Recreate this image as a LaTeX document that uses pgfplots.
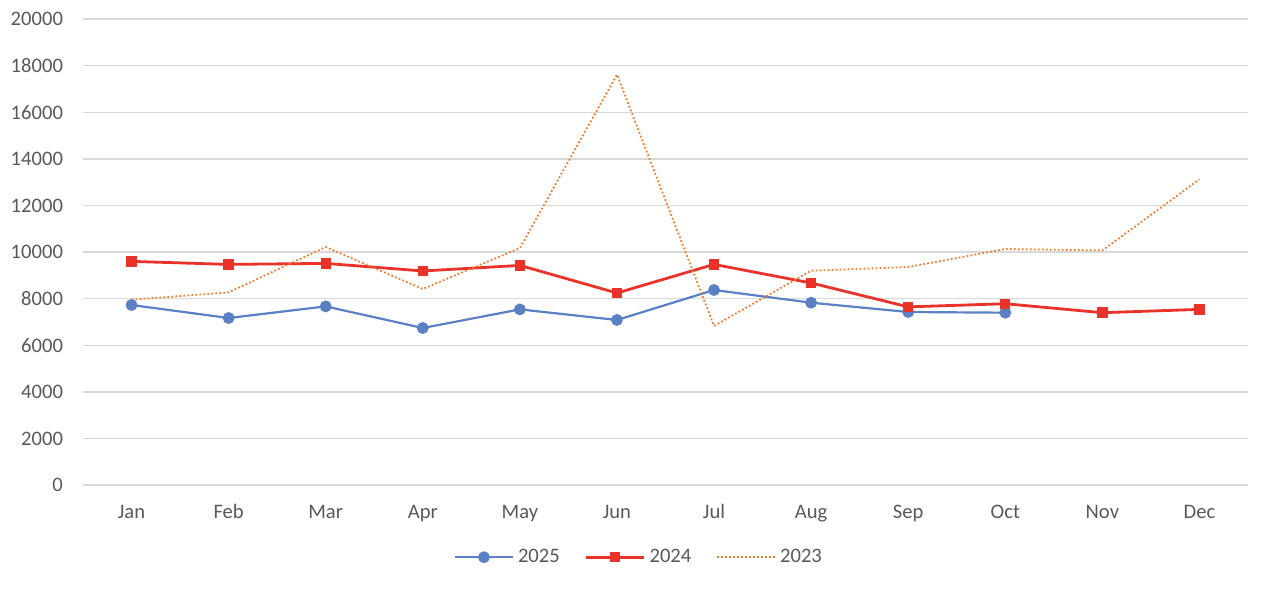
\documentclass[border=0pt]{standalone}
\usepackage{fontspec}
\setmainfont{Carlito}
\usepackage{pgfplots}
\pgfplotsset{compat=1.18}
\definecolor{cblue}{HTML}{5B80C4}
\definecolor{cred}{HTML}{E8322A}
\definecolor{corange}{HTML}{ED7D31}
\definecolor{tgray}{HTML}{595959}
\definecolor{ggray}{HTML}{D9D9D9}
\begin{document}
\begin{tikzpicture}
\begin{axis}[
	scale only axis,
	width = 582.5pt,
	height = 233pt,
	xmin = -0.5, xmax = 11.5,
	ymin = 0, ymax = 20000,
	ytick = {0,2000,...,20000},
	xtick = {0,...,11},
	xticklabels = {Jan,Feb,Mar,Apr,May,Jun,Jul,Aug,Sep,Oct,Nov,Dec},
	scaled ticks = false,
	/pgf/number format/.cd, set thousands separator={}, assume math mode=true,
	/pgfplots/.cd,
	major tick length = 0pt,
	axis line style = {draw=none},
	ymajorgrids,
	grid style = {ggray, line width=0.7pt},
	ticklabel style = {font=\fontsize{10.3}{12}\selectfont, text=tgray},
	yticklabel style = {anchor=east, xshift=-6.5pt},
	xticklabel style = {anchor=base, yshift=-16.5pt},
	legend columns = 3,
	legend style = {draw=none, fill=none, at={(0.478,-0.155)}, anchor=center,
		font=\fontsize{10.3}{12}\selectfont, text=tgray,
		/tikz/every even column/.append style={column sep=10.5pt}},
	legend image code/.code = {\draw[mark repeat=2, mark phase=2, #1] plot coordinates {(0pt,0pt) (14.5pt,0pt) (29pt,0pt)};},
]
\addplot[cblue, line width=1.1pt, mark=*, mark size=2.4pt, mark options={solid, fill=cblue}] coordinates {
	(0, 7725) (1, 7167) (2, 7665) (3, 6738) (4, 7537)
	(5, 7082) (6, 8369) (7, 7824) (8, 7425) (9, 7395)
};
\addlegendentry{2025}
\addplot[cred, line width=1.4pt, mark=square*, mark size=1.9pt, mark options={solid, fill=cred}] coordinates {
	(0, 9597) (1, 9468) (2, 9511) (3, 9185) (4, 9425) (5, 8240)
	(6, 9468) (7, 8670) (8, 7645) (9, 7780) (10, 7395) (11, 7537)
};
\addlegendentry{2024}
\addplot[corange, line width=0.9pt, dash pattern=on 0.9pt off 1.1pt, no marks] coordinates {
	(0, 7953) (1, 8266) (2, 10214) (3, 8412) (4, 10170) (5, 17614)
	(6, 6828) (7, 9197) (8, 9356) (9, 10129) (10, 10069) (11, 13120)
};
\addlegendentry{2023}
\end{axis}
\path (current axis.south west) ++(-41.5pt,-52.5pt) rectangle ++(633pt,295pt);
\end{tikzpicture}
\end{document}
